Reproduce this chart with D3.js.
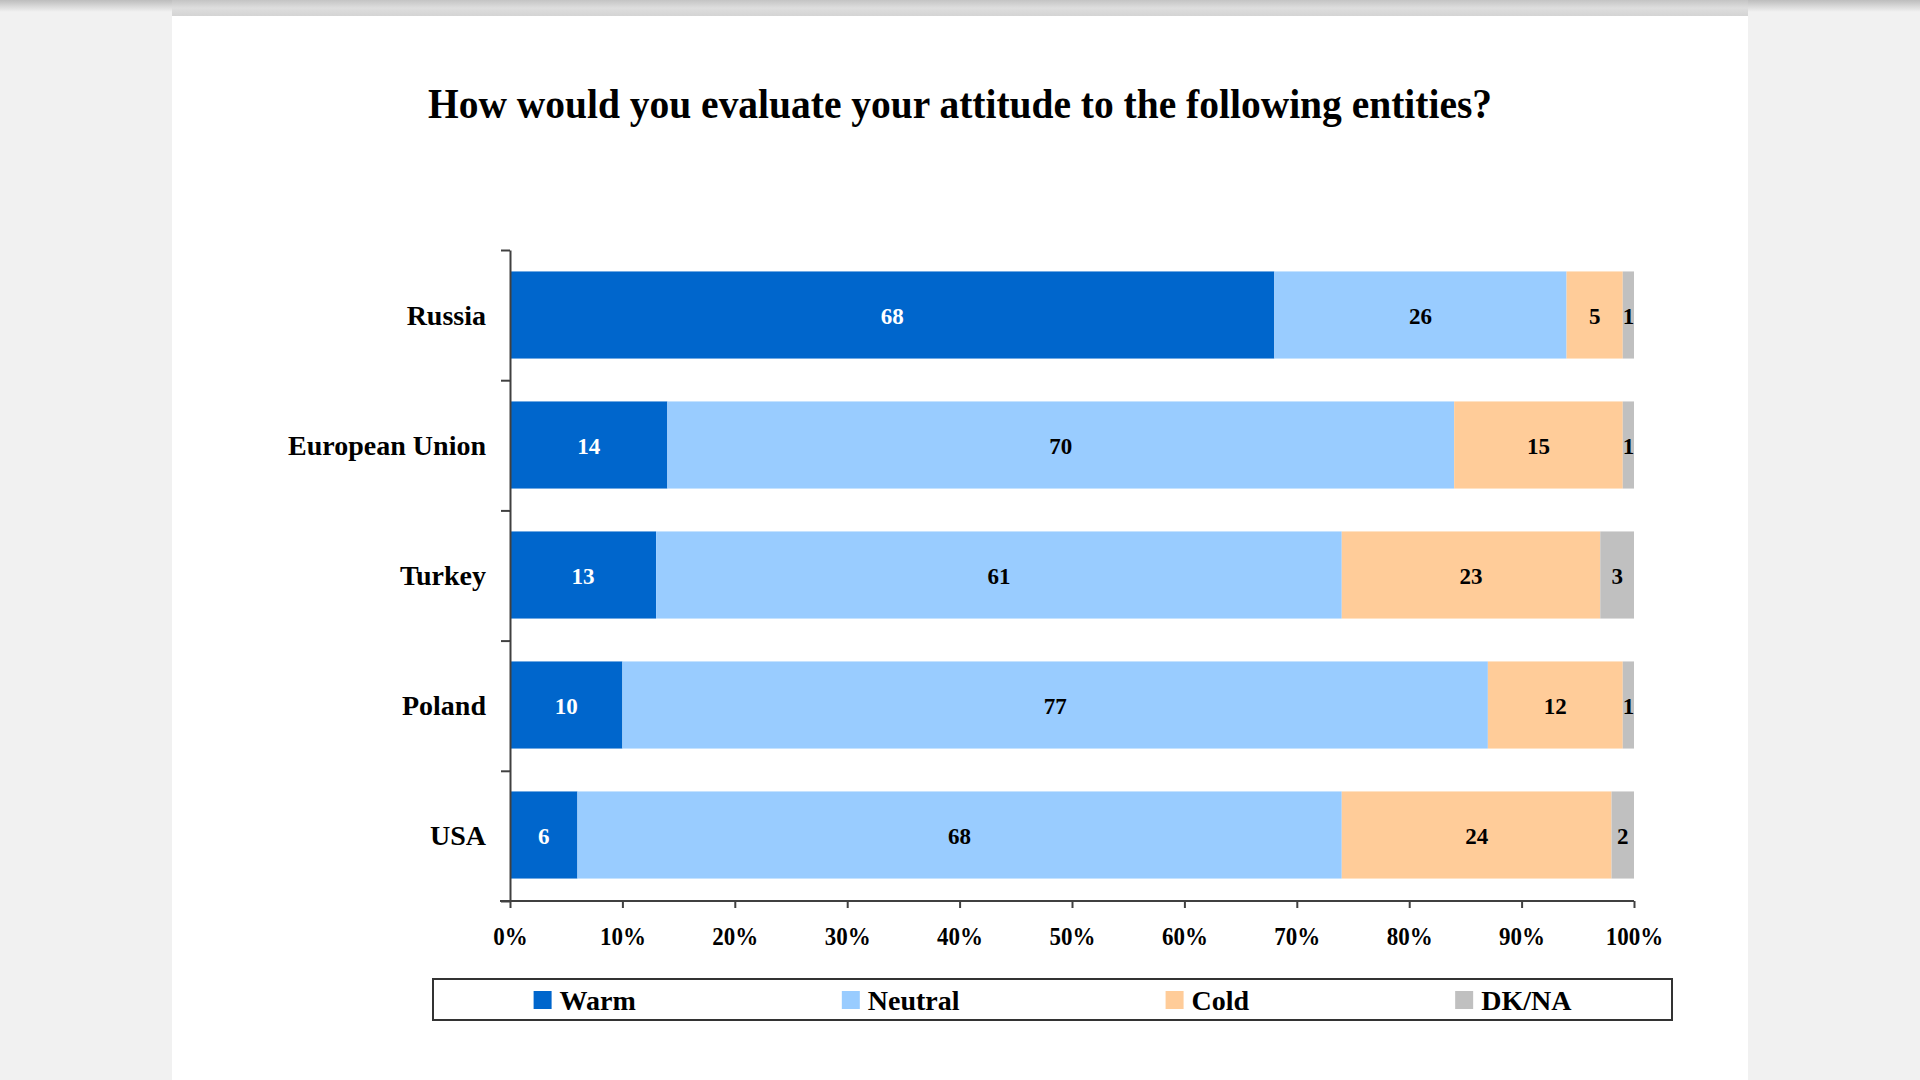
<!DOCTYPE html>
<html>
<head>
<meta charset="utf-8">
<script src="https://cdn.jsdelivr.net/npm/d3@7"></script>
<style>
  html, body { margin: 0; padding: 0; background: #f1f1f1; }
  svg { display: block; }
  text { font-family: "Liberation Serif", "Times New Roman", serif; font-weight: bold; }
</style>
</head>
<body>
<svg id="chart" width="1920" height="1080"></svg>
<script>
const titleText = "How would you evaluate your attitude to the following entities?";
const categories = ["Russia", "European Union", "Turkey", "Poland", "USA"];
const seriesNames = ["Warm", "Neutral", "Cold", "DK/NA"];
const warm    = [68, 14, 13, 10, 6];
const neutral = [26, 70, 61, 77, 68];
const cold    = [5, 15, 23, 12, 24];
const dkna    = [1, 1, 3, 1, 2];
const seriesColors = ["#0066CC", "#99CCFF", "#FFCC99", "#C0C0C0"];
const labelColors = ["#ffffff", "#000000", "#000000", "#000000"];
const xTickValues = [0, 10, 20, 30, 40, 50, 60, 70, 80, 90, 100];

const rows = categories.map((c, i) => ({ cat: c, Warm: warm[i], Neutral: neutral[i], Cold: cold[i], "DK/NA": dkna[i] }));

const svg = d3.select("#chart");

// background decoration
const defs = svg.append("defs");
const g1 = defs.append("linearGradient").attr("id", "topShade").attr("x1", 0).attr("y1", 0).attr("x2", 0).attr("y2", 1);
g1.append("stop").attr("offset", "0%").attr("stop-color", "#bdbdbd");
g1.append("stop").attr("offset", "100%").attr("stop-color", "#f1f1f1");
const g2 = defs.append("linearGradient").attr("id", "pageShade").attr("x1", 0).attr("y1", 0).attr("x2", 0).attr("y2", 1);
g2.append("stop").attr("offset", "0%").attr("stop-color", "#c4c4c4");
g2.append("stop").attr("offset", "50%").attr("stop-color", "#dedede");
g2.append("stop").attr("offset", "100%").attr("stop-color", "#d4d4d4");

svg.append("rect").attr("x", 0).attr("y", 0).attr("width", 1920).attr("height", 1080).attr("fill", "#f1f1f1");
svg.append("rect").attr("x", 0).attr("y", 0).attr("width", 1920).attr("height", 12).attr("fill", "url(#topShade)");
svg.append("rect").attr("x", 172).attr("y", 16).attr("width", 1576).attr("height", 1064).attr("fill", "#ffffff");
svg.append("rect").attr("x", 172).attr("y", 0).attr("width", 1576).attr("height", 16).attr("fill", "url(#pageShade)");

// title
svg.append("g")
  .attr("transform", "translate(960,118) scale(1,1.06)")
  .append("text")
  .attr("x", 0).attr("y", 0)
  .attr("text-anchor", "middle")
  .attr("font-size", 40)
  .attr("textLength", 1064)
  .attr("lengthAdjust", "spacingAndGlyphs")
  .attr("fill", "#000")
  .text(titleText);

// scales
const plotLeft = 510, plotRight = 1634, plotTop = 250, plotBottom = 900;
const x = d3.scaleLinear().domain([0, 100]).range([plotLeft, plotRight]);
const y = d3.scaleBand().domain(categories).range([plotTop, plotBottom]).paddingInner(0.33).paddingOuter(0.165);

const stack = d3.stack().keys(seriesNames);
const stacked = stack(rows);

// bars
const layers = svg.append("g").selectAll("g")
  .data(stacked)
  .join("g")
  .attr("fill", (d, i) => seriesColors[i]);

layers.selectAll("rect")
  .data(d => d)
  .join("rect")
  .attr("x", d => x(d[0]))
  .attr("y", d => y(d.data.cat))
  .attr("width", d => x(d[1]) - x(d[0]))
  .attr("height", y.bandwidth());

// data labels
stacked.forEach((layer, si) => {
  svg.append("g").selectAll("text")
    .data(layer)
    .join("text")
    .attr("x", d => (x(d[0]) + x(d[1])) / 2)
    .attr("y", d => y(d.data.cat) + y.bandwidth() / 2 + 8.5)
    .attr("text-anchor", "middle")
    .attr("font-size", 23)
    .attr("fill", labelColors[si])
    .text(d => d[1] - d[0]);
});

// x axis
const xAxis = d3.axisBottom(x).tickValues(xTickValues).tickFormat(d => d + "%").tickSize(7).tickSizeOuter(0);
const gx = svg.append("g").attr("transform", `translate(0,${plotBottom + 1})`).call(xAxis);
gx.select(".domain").attr("stroke", "#404040").attr("stroke-width", 2).attr("d", `M${plotLeft - 10},0H${plotRight}`);
gx.selectAll(".tick line").attr("stroke", "#404040").attr("stroke-width", 2);
gx.selectAll(".tick text")
  .attr("font-family", "'Liberation Serif','Times New Roman',serif")
  .attr("font-weight", "bold")
  .attr("font-size", 23)
  .attr("fill", "#000")
  .attr("y", 0)
  .attr("dy", null)
  .attr("transform", "translate(0,44) scale(1,1.12)");

// y axis: ticks at band boundaries
const yBound = d3.scaleLinear().domain([0, categories.length]).range([plotTop, plotBottom + 1]);
const yAxis = d3.axisLeft(yBound).ticks(categories.length).tickFormat("").tickSize(9).tickSizeOuter(0);
const gy = svg.append("g").attr("transform", `translate(${plotLeft},0)`).call(yAxis);
gy.select(".domain").attr("stroke", "#404040").attr("stroke-width", 2);
gy.selectAll(".tick line").attr("stroke", "#404040").attr("stroke-width", 2);

// category labels
svg.append("g").selectAll("text")
  .data(categories)
  .join("text")
  .attr("x", plotLeft - 24)
  .attr("y", d => y(d) + y.bandwidth() / 2 + 9.5)
  .attr("text-anchor", "end")
  .attr("font-size", 28)
  .attr("fill", "#000")
  .text(d => d);

// legend
const legX0 = 433, legX1 = 1672, legY0 = 979, legY1 = 1020;
svg.append("rect")
  .attr("x", legX0).attr("y", legY0)
  .attr("width", legX1 - legX0).attr("height", legY1 - legY0)
  .attr("fill", "#fff").attr("stroke", "#333").attr("stroke-width", 2);

const legG = svg.append("g");
const items = legG.selectAll("g").data(seriesNames).join("g");
items.append("rect")
  .attr("width", 18).attr("height", 18)
  .attr("y", 991)
  .attr("fill", (d, i) => seriesColors[i]);
items.append("text")
  .attr("x", 26).attr("y", 1009.5)
  .attr("font-size", 28)
  .attr("fill", "#000")
  .text(d => d);

const gap = 206;
const widths = [];
items.each(function () {
  const t = d3.select(this).select("text").node().getComputedTextLength();
  widths.push(26 + t);
});
const total = d3.sum(widths) + gap * (widths.length - 1);
let cx = (legX0 + legX1) / 2 - total / 2;
items.each(function (d, i) {
  d3.select(this).attr("transform", `translate(${cx},0)`);
  cx += widths[i] + gap;
});
</script>
</body>
</html>
